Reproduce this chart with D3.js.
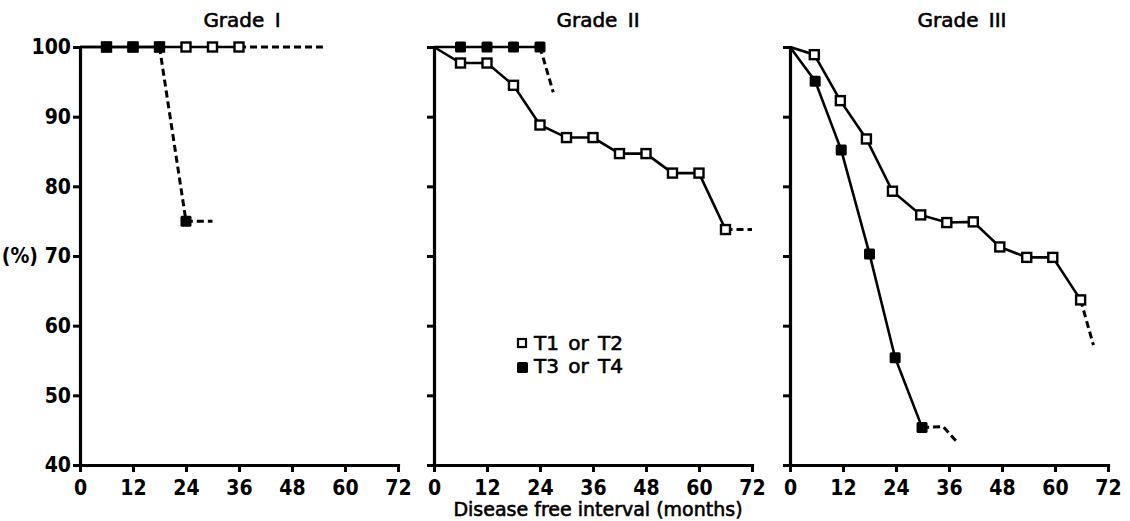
<!DOCTYPE html>
<html>
<head>
<meta charset="utf-8">
<script src="https://cdn.jsdelivr.net/npm/d3@7"></script>
<style>
body { margin: 0; background: #fff; }
text { fill: #000; }
.tk { font-family: "Liberation Sans Narrow", "DejaVu Sans Condensed", sans-serif; font-weight: bold; font-size: 21px; }
.lab { font-family: "DejaVu Sans", sans-serif; font-weight: normal; stroke: #000; stroke-width: 0.6px; }
</style>
</head>
<body>
<div id="chart"></div>
<script>
var width = 1130, height = 521;

// x ticks (months) and y ticks (%)
var monthTicks = [0, 12, 24, 36, 48, 60, 72];
var pctTicks = [40, 50, 60, 70, 80, 90, 100];
var gradeNames = ["Grade I", "Grade II", "Grade III"];
var legendLabels = ["T1 or T2", "T3 or T4"];

// points are [month, percent, marker?]
var g1Open = [[0,100,0],[6,100,1],[12,100,1],[18,100,1],[24,100,1],[30,100,1],[36,100,1]];
var g1OpenDash = [[36,100,0],[55,100,0]];
var g1Filled = [[0,100,0],[6,100,1],[12,100,1],[18,100,1]];
var g1FilledDash = [[18,100,0],[24,75,1],[30,75,0]];

var g2Open = [[0,100,0],[6,97.7,1],[12,97.7,1],[18,94.5,1],[24,88.8,1],[30,87,1],[36,87,1],
	[42,84.7,1],[48,84.7,1],[54,81.9,1],[60,81.9,1],[66,73.8,1]];
var g2OpenDash = [[66,73.8,0],[72,73.8,0]];
var g2Filled = [[0,100,0],[6,100,1],[12,100,1],[18,100,1],[24,100,1]];
var g2FilledDash = [[24,100,0],[27,93.5,0]];

var g3Open = [[0,100,0],[5.5,98.9,1],[11.4,92.3,1],[17.3,86.8,1],[23.2,79.3,1],[29.6,75.9,1],[35.5,74.8,1],
	[41.5,74.9,1],[47.5,71.3,1],[53.6,69.8,1],[59.5,69.8,1],[65.8,63.7,1]];
var g3OpenDash = [[65.8,63.7,0],[68.7,57.2,0]];
var g3Filled = [[0,100,0],[5.7,95.1,1],[11.6,85.2,1],[18,70.3,1],[23.8,55.4,1],[29.9,45.4,1]];
var g3FilledDash = [[29.9,45.4,0],[34.7,45.5,0],[38.1,43.1,0]];

var panels = [
	{ x0: 80, open: g1Open, openDash: g1OpenDash, filled: g1Filled, filledDash: g1FilledDash, title: gradeNames[0], tx: 242 },
	{ x0: 434, open: g2Open, openDash: g2OpenDash, filled: g2Filled, filledDash: g2FilledDash, title: gradeNames[1], tx: 598 },
	{ x0: 790, open: g3Open, openDash: g3OpenDash, filled: g3Filled, filledDash: g3FilledDash, title: gradeNames[2], tx: 962 }
];

var svg = d3.select("#chart").append("svg")
	.attr("width", width)
	.attr("height", height);

var x = d3.scaleLinear().domain([0, 72]).range([0, 318]);
var y = d3.scaleLinear().domain([40, 100]).range([465, 47]);

var line = d3.line()
	.x(function(d){ return x(d[0]); })
	.y(function(d){ return y(d[1]); });

panels.forEach(function(p, i){

	var g = svg.append("g")
		.attr("transform", "translate(" + p.x0 + ",0)");

	var yAxis = d3.axisLeft(y).tickValues(pctTicks).tickSize(7).tickSizeOuter(0).tickPadding(2);
	if (i > 0) yAxis.tickFormat("");
	var ya = g.append("g").call(yAxis);

	var xa = g.append("g")
		.attr("transform", "translate(0,465)")
		.call(d3.axisBottom(x).tickValues(monthTicks).tickSize(7).tickSizeOuter(0).tickPadding(8));

	[ya, xa].forEach(function(a){
		a.attr("font-family", null).attr("font-size", null);
		a.select(".domain").attr("stroke-width", 3.2).attr("stroke-linecap", "square");
		a.selectAll(".tick line").attr("stroke-width", 3);
		a.selectAll("text").attr("class", "tk").attr("fill", "#000");
	});

	if (i == 0){
		g.append("text")
			.attr("class", "tk")
			.attr("x", -42)
			.attr("y", y(70))
			.attr("dy", ".35em")
			.attr("text-anchor", "end")
			.text("(%)");
	}

	svg.append("text")
		.attr("class", "lab")
		.attr("x", p.tx)
		.attr("y", 27)
		.attr("text-anchor", "middle")
		.style("font-size", "20px")
		.style("word-spacing", "4px")
		.text(p.title);

	// solid and dashed lines
	[p.open, p.filled].forEach(function(s){
		g.append("path").datum(s)
			.attr("d", line)
			.attr("fill", "none")
			.attr("stroke", "#000")
			.attr("stroke-width", 2.6);
	});
	[p.openDash, p.filledDash].forEach(function(s){
		g.append("path").datum(s)
			.attr("d", line)
			.attr("fill", "none")
			.attr("stroke", "#000")
			.attr("stroke-width", 3)
			.attr("stroke-dasharray", "7,4");
	});

	var openPts = p.open.concat(p.openDash).filter(function(d){ return d[2]; });
	var filledPts = p.filled.concat(p.filledDash).filter(function(d){ return d[2]; });

	g.selectAll("rect.open").data(openPts).enter().append("rect")
		.attr("class", "open")
		.attr("x", function(d){ return x(d[0]) - 4.5; })
		.attr("y", function(d){ return y(d[1]) - 4.5; })
		.attr("width", 9).attr("height", 9)
		.attr("fill", "#fff")
		.attr("stroke", "#000")
		.attr("stroke-width", 2.4);

	g.selectAll("rect.filled").data(filledPts).enter().append("rect")
		.attr("class", "filled")
		.attr("x", function(d){ return x(d[0]) - 5.5; })
		.attr("y", function(d){ return y(d[1]) - 5.5; })
		.attr("width", 11).attr("height", 11)
		.attr("rx", 1.5)
		.attr("fill", "#000");
});

// legend
var legend = svg.append("g").attr("transform", "translate(517,0)");
legend.append("rect")
	.attr("x", 1).attr("y", 339).attr("width", 8).attr("height", 8)
	.attr("fill", "#fff").attr("stroke", "#000").attr("stroke-width", 2.2);
legend.append("rect")
	.attr("x", 0).attr("y", 362).attr("width", 11).attr("height", 11).attr("rx", 1.5)
	.attr("fill", "#000");
legend.selectAll("text.leg").data(legendLabels).enter().append("text")
	.attr("class", "lab")
	.attr("x", 17)
	.attr("y", function(d, i){ return 350 + i * 23; })
	.style("font-size", "20px")
	.style("word-spacing", "3px")
	.text(function(d){ return d; });

svg.append("text")
	.attr("class", "lab")
	.attr("x", 598)
	.attr("y", 516)
	.attr("text-anchor", "middle")
	.style("font-size", "19px")
	.text("Disease free interval (months)");
</script>
</body>
</html>
